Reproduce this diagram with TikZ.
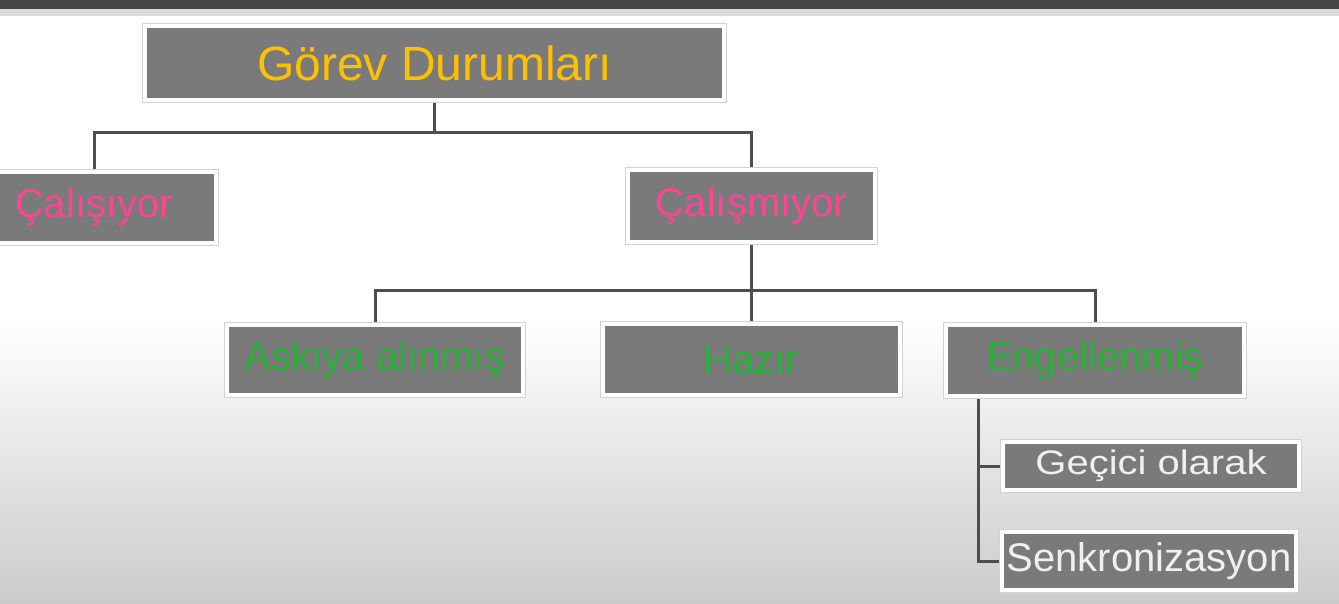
\documentclass[tikz,border=0pt]{standalone}
\usepackage{fontspec}
\setmainfont{Liberation Sans}
\usetikzlibrary{shadows}
\definecolor{boxgray}{RGB}{122,122,122}
\definecolor{linegray}{RGB}{78,78,78}
\definecolor{orangetxt}{RGB}{255,192,0}
\definecolor{pinktxt}{RGB}{255,70,150}
\definecolor{greentxt}{RGB}{40,178,55}
\definecolor{whitetxt}{RGB}{240,240,240}
\definecolor{topbar}{RGB}{70,70,70}
\definecolor{subbar}{RGB}{218,218,218}
\definecolor{bgbottom}{RGB}{203,203,203}
\pgfdeclarelayer{bg}
\pgfdeclarelayer{lines}
\pgfsetlayers{bg,lines,main}
\tikzset{
  box/.style={draw=white, line width=4pt, fill=boxgray, inner sep=0pt,
    drop shadow={shadow xshift=2pt, shadow yshift=-3pt, opacity=0.3},
    preaction={draw=black!18, line width=6pt},
    font=\fontsize{40}{48}\selectfont},
  conn/.style={draw=linegray, line width=3pt},
}
\begin{document}
\begin{tikzpicture}[x=1pt,y=-1pt]
\useasboundingbox (0,0) rectangle (1339,603);
\begin{pgfonlayer}{bg}
  \fill[white] (0,0) rectangle (1339,320);
  \shade[top color=white, bottom color=bgbottom] (0,319) rectangle (1339,603);
  \fill[subbar] (0,8) rectangle (1339,16);
  \fill[topbar] (0,0) rectangle (1339,9);
\end{pgfonlayer}

\node[box, minimum width=579pt, minimum height=74pt, font=\fontsize{48}{56}\selectfont, text=orangetxt] (top) at (434.5,63) {Görev Durumları};
\node[box, minimum width=244pt, minimum height=71pt, text=pinktxt] (cal1) at (94,207) {Çalışıyor};
\node[box, minimum width=247pt, minimum height=72pt, text=pinktxt] (cal2) at (751.5,206) {Çalışmıyor};
\node[box, minimum width=296pt, minimum height=70pt, text=greentxt] (ask) at (375,360) {Askıya alınmış};
\node[box, minimum width=297pt, minimum height=71pt, text=greentxt] (haz) at (751.5,359.5) {Hazır};
\node[box, minimum width=298pt, minimum height=71pt, text=greentxt] (eng) at (1095,360.5) {Engellenmiş};
\node[box, minimum width=296pt, minimum height=48pt, text=whitetxt] (gec) at (1151,466) {\scalebox{1}[0.85]{Geçici olarak}};
\node[box, minimum width=294pt, minimum height=58pt, text=whitetxt] (senk) at (1149,561) {Senkronizasyon};

\coordinate (j1) at (434.5,132);
\coordinate (j2) at (751.5,290);
\coordinate (e0) at (978,390);
\begin{pgfonlayer}{lines}
  \draw[conn] (top) -- (j1);
  \draw[conn] (j1) -| (cal1.north);
  \draw[conn] (j1) -| (cal2.north);
  \draw[conn] (cal2) -- (j2);
  \draw[conn] (j2) -| (ask.north);
  \draw[conn] (j2) -- (haz.north);
  \draw[conn] (j2) -| (eng.north);
  \draw[conn] (e0) |- (gec.west);
  \draw[conn] (e0) |- (senk.west);
\end{pgfonlayer}
\end{tikzpicture}
\end{document}
